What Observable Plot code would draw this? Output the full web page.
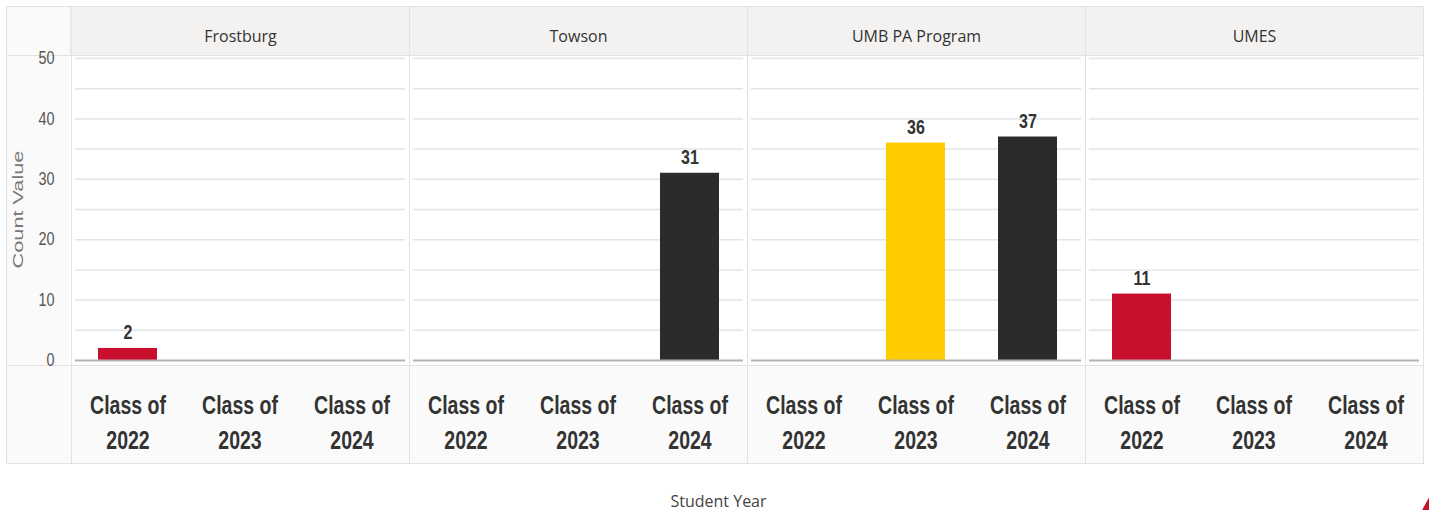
<!DOCTYPE html>
<html><head><meta charset="utf-8">
<script src="https://cdn.jsdelivr.net/npm/d3@7"></script>
<script src="https://cdn.jsdelivr.net/npm/@observablehq/plot@0.6"></script>
<style>
html,body{margin:0;padding:0;background:#fff;}
body{width:1429px;height:510px;overflow:hidden;position:relative;font-family:"Open Sans","Noto Sans",sans-serif;}
#stage{position:absolute;left:6px;top:6px;width:1418px;height:458px;}
.bg{position:absolute;}
.ln{position:absolute;background:#e2e2e2;}
#chart{position:absolute;left:0;top:0;}
#caption{position:absolute;left:4px;width:1429px;top:490px;text-align:center;font-size:16px;color:#444;}
#corner{position:absolute;left:1421px;top:494px;width:10px;height:18px;background:#c8102e;clip-path:polygon(100% 0,100% 100%,0 100%);}
</style>
</head><body>
<div id="stage"></div>
<div id="caption">Student Year</div>
<div id="corner"></div>
<script>
const schools = ["Frostburg", "Towson", "UMB PA Program", "UMES"];
const classes = ["Class of 2022", "Class of 2023", "Class of 2024"];
const classColors = ["#c8102e", "#ffcc00", "#2b2b2b"];
const frostburg = [2, null, null];
const towson = [null, null, 31];
const umb = [null, 36, 37];
const umes = [11, null, null];
const yTicks = [0, 10, 20, 30, 40, 50];
const yGrid = [5, 10, 15, 20, 25, 30, 35, 40, 45, 50];

const series = [frostburg, towson, umb, umes];
const data = [];
schools.forEach((s, i) => classes.forEach((c, j) => {
  if (series[i][j] != null) data.push({school: s, cls: c, value: series[i][j]});
}));

const W = 1418, H = 458, ML = 63, MT = 52, MB = 104;
const arial = "'Liberation Sans','Arimo',Arial,sans-serif";

const chart = Plot.plot({
  width: W, height: H,
  marginLeft: ML, marginRight: 0, marginTop: MT, marginBottom: MB,
  style: {background: "transparent", fontFamily: arial, color: "#333", overflow: "visible"},
  fx: {domain: schools, padding: 0, label: null},
  x: {domain: classes, paddingInner: 0.47, paddingOuter: 0.22, inset: 2, label: null},
  y: {domain: [0, 50], label: null},
  color: {domain: classes, range: classColors},
  marks: [
    Plot.ruleY(yGrid, {y: d => d, stroke: "#e3e4e9", strokeWidth: 1.5, insetLeft: 4, insetRight: 4}),
    Plot.barY(data, {fx: "school", x: "cls", y: "value", fill: "cls"}),
    Plot.ruleY([0], {stroke: "#b3b3b3", strokeWidth: 2, insetLeft: 4, insetRight: 4}),
    Plot.text(data, {fx: "school", x: "cls", y: "value", text: d => String(d.value),
      lineAnchor: "bottom", dy: -9, fontSize: 20, fontWeight: "bold", fill: "#333"}),
    Plot.axisY({ticks: yTicks, tickSize: 0, tickPadding: 17, fontSize: 18, color: "#555",
      label: "Count Value", labelAnchor: "center", labelArrow: "none", labelOffset: 58}),
    Plot.axisX({tickSize: 0, tickPadding: 29, fontSize: 25, fontWeight: "bold", color: "#333",
      lineHeight: 1.4, label: null, tickFormat: d => d.replace(" 20", "\n20")}),
    Plot.axisFx({anchor: "top", tickSize: 0, tickPadding: 17, fontSize: 16, color: "#333",
      fontFamily: "'Open Sans','Noto Sans',sans-serif", label: null})
  ]
});

// narrow (Arial Narrow–like) rendering: scale along the text direction
function condense(texts, s) {
  texts.forEach(t => {
    const x = t.getAttribute("x");
    let tr = t.getAttribute("transform") || "";
    if (x != null && isFinite(+x)) {
      tr += ` translate(${+x},0)`;
      t.removeAttribute("x");
    }
    t.setAttribute("transform", tr + ` scale(${s},1)`);
  });
}
const q = sel => Array.from(chart.querySelectorAll(sel));
condense(q('g[aria-label="x-axis tick label"] text'), 0.78);
const yTickTexts = q('g[aria-label="y-axis tick label"] text');
yTickTexts.forEach(t => { t.style.fontSize = "18px"; t.style.fill = "#555"; });
condense(yTickTexts, 0.8);
condense(q('g[aria-label="text"] text'), 0.8);
const yLabel = q("text").filter(t => t.textContent === "Count Value");
yLabel.forEach(t => { t.style.fill = "#777"; t.style.fontSize = "14px"; });
condense(yLabel, 1.55);

const stage = document.getElementById("stage");
const fx = chart.scale("fx");
const headerH = 49, bottomTop = 359;
function box(cls, l, t, w, h, color) {
  const d = document.createElement("div");
  d.className = cls;
  Object.assign(d.style, {left: l + "px", top: t + "px", width: w + "px", height: h + "px"});
  if (color) d.style.background = color;
  stage.appendChild(d);
}
box("bg", 0, 0, W, H, "#fafafa");
box("bg", ML, 0, W - ML, headerH, "#f3f2f1");
box("bg", ML, headerH, W - ML, bottomTop - headerH, "#ffffff");
box("ln", 0, 0, W, 1); box("ln", 0, H - 1, W, 1);
box("ln", 0, 0, 1, H); box("ln", W - 1, 0, 1, H);
box("ln", 0, headerH, W, 1); box("ln", 0, bottomTop, W, 1);
schools.forEach(s => box("ln", Math.round(fx.apply(s)), 0, 1, H));
chart.id = "chart";
stage.appendChild(chart);
</script>
</body></html>
